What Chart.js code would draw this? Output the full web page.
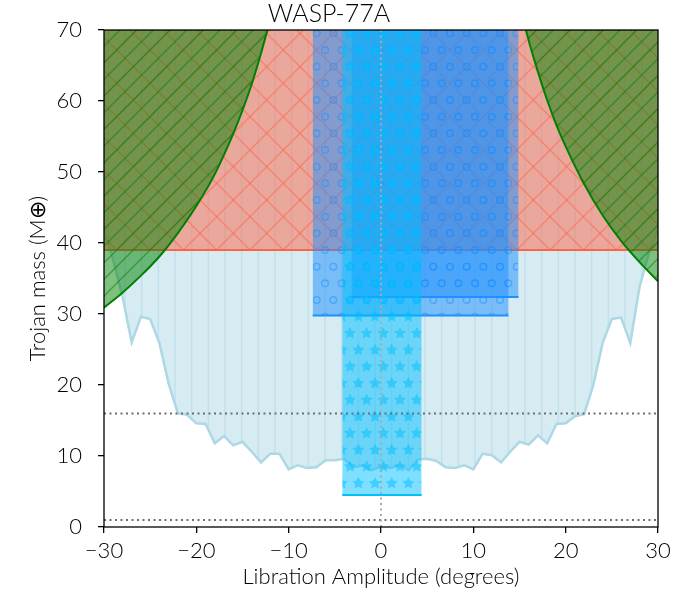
<!DOCTYPE html>
<html>
<head>
<meta charset="utf-8">
<script src="https://cdn.jsdelivr.net/npm/chart.js@4.4.1/dist/chart.umd.min.js"></script>
<style>
  html, body { margin: 0; padding: 0; background: #ffffff; }
  #wrap { width: 693px; height: 600px; }
</style>
</head>
<body>
<div id="wrap"><canvas id="c" width="693" height="600"></canvas></div>
<script>
// ---------------- data ----------------
const chartTitle = 'WASP-77A';
const xAxisLabel = 'Libration Amplitude (degrees)';
const yAxisLabel = 'Trojan mass (M\u2295)';

const amplitudes = [-30,-29,-28,-27,-26,-25,-24,-23,-22,-21,-20,-19,-18,-17,-16,-15,-14,-13,-12,-11,-10,
  -9,-8,-7,-6,-5,-4,-3,-2,-1,0,1,2,3,4,5,6,7,8,9,10,11,12,13,14,15,16,17,18,19,20,21,22,23,24,25,26,27,28,29,30];
const massLimit = [42,37.6,32.5,26.0,29.6,29.3,25.9,20.2,16.0,15.8,14.6,14.5,11.8,12.8,11.5,12.0,10.6,9.1,10.3,10.3,8.1,
  8.7,8.3,8.4,9.4,9.4,9.6,8.4,8.7,8.0,8.5,8.3,8.7,8.0,9.5,9.6,9.3,8.4,8.3,8.7,8.1,10.3,10.1,9.1,10.6,12.0,11.6,12.9,11.8,
  14.5,14.6,15.6,15.9,20.0,25.9,29.3,29.5,25.9,33.8,38.5,42];

const redX = [-30, 30];
const redY = [39, 39];

const greenLeftX = [-30,-28,-26,-24,-22,-20,-18,-16,-15,-14,-13,-12.3];
const greenLeftY = [30.9,33.0,35.4,38.1,41.4,45.2,49.7,55.4,58.7,62.4,66.7,70];
const greenRightX = [15.7,16,17,18,19,20,22,24,26,28,30];
const greenRightY = [70,68.5,64.1,60.1,56.6,53.6,48.3,43.9,40.3,37.3,34.6];

const band1X = [-7.4, 13.8];
const band1Y = [29.8, 29.8];
const band2X = [-3.2, 14.9];
const band2Y = [32.4, 32.4];
const starX = [-4.2, 4.4];
const starY = [4.5, 4.5];

const refLine1Y = [16, 16];
const refLine2Y = [1, 1];
const fullX = [-30, 30];
const zeroX = [0, 0];
const zeroY = [0, 70];

const xTicks = [-30, -20, -10, 0, 10, 20, 30];
const yTicks = [0, 10, 20, 30, 40, 50, 60, 70];

// ---------------- hatch patterns ----------------
function makePattern(fill, stroke, kind) {
  const c = document.createElement('canvas');
  c.width = 100; c.height = 100;
  const g = c.getContext('2d');
  g.fillStyle = fill; g.fillRect(0, 0, 100, 100);
  g.strokeStyle = stroke; g.fillStyle = stroke; g.lineWidth = 1.4;
  const u = 100 / 6;
  if (kind === 'vline') {
    for (let i = 0; i < 6; i++) {
      const x = (i + 0.5) * u;
      g.beginPath(); g.moveTo(x, -1); g.lineTo(x, 101); g.stroke();
    }
  }
  if (kind === 'slash' || kind === 'cross') {
    const s = kind === 'slash' ? u : 2 * u;
    for (let k = -1; k * s <= 220; k++) {
      const c0 = k * s;
      g.beginPath(); g.moveTo(c0 + 5, -5); g.lineTo(c0 - 105, 105); g.stroke();
    }
    if (kind === 'cross') {
      for (let k = -8; k <= 8; k++) {
        const c0 = k * s;
        g.beginPath(); g.moveTo(-5, c0 - 5); g.lineTo(105, c0 + 105); g.stroke();
      }
    }
  }
  if (kind === 'circle' || kind === 'star') {
    for (let r = 0; r <= 6; r++) {
      const y = r * u;
      const cols = r % 2 === 0 ? [0,1,2,3,4,5,6].map(j => j * u) : [0,1,2,3,4,5].map(j => u / 2 + j * u);
      cols.forEach(x => {
        if (kind === 'circle') {
          g.beginPath(); g.arc(x, y, 3.3, 0, Math.PI * 2); g.stroke();
        } else {
          const R = 6.4, rin = 3.2;
          g.beginPath();
          for (let p = 0; p < 10; p++) {
            const a = -Math.PI / 2 + p * Math.PI / 5;
            const rr = p % 2 === 0 ? R : rin;
            const px = x + rr * Math.cos(a), py = y + rr * Math.sin(a);
            if (p === 0) g.moveTo(px, py); else g.lineTo(px, py);
          }
          g.closePath(); g.fill();
        }
      });
    }
  }
  return g.createPattern(c, 'repeat');
}

const pLightBlue = makePattern('rgba(173,216,230,0.5)', 'rgba(173,216,230,0.5)', 'vline');
const pRed = makePattern('rgba(255,99,71,0.5)', 'rgba(255,99,71,0.5)', 'cross');
const pGreen = makePattern('rgba(0,128,0,0.5)', 'rgba(0,128,0,0.5)', 'slash');
const pBlue = makePattern('rgba(30,144,255,0.5)', 'rgba(30,144,255,0.5)', 'circle');
const pStar = makePattern('rgba(0,191,255,0.5)', 'rgba(0,191,255,0.5)', 'star');

function pts(xs, ys) { return xs.map((x, i) => ({ x: x, y: ys[i] })); }

const FONT = 'Lato, "DejaVu Sans", sans-serif';
const minus = v => (v < 0 ? '\u2212' + Math.abs(v) : String(v));

const framePlugin = {
  id: 'frame',
  afterDatasetsDraw(chart) {
    const a = chart.chartArea, ctx = chart.ctx;
    ctx.save();
    ctx.strokeStyle = '#000'; ctx.lineWidth = 1.3;
    ctx.strokeRect(a.left, a.top, a.right - a.left, a.bottom - a.top);
    ctx.restore();
  }
};

new Chart(document.getElementById('c'), {
  type: 'line',
  data: {
    datasets: [
      { label: 'limit', data: pts(amplitudes, massLimit), fill: 'end', backgroundColor: pLightBlue,
        borderColor: '#add8e6', borderWidth: 2.5, pointRadius: 0, tension: 0, order: 10 },
      { label: 'red', data: pts(redX, redY), fill: 'end', backgroundColor: pRed,
        borderColor: '#ff6347', borderWidth: 2, pointRadius: 0, order: 9 },
      { label: 'greenL', data: pts(greenLeftX, greenLeftY), fill: 'end', backgroundColor: pGreen,
        borderColor: '#008000', borderWidth: 2, pointRadius: 0, cubicInterpolationMode: 'monotone', order: 8 },
      { label: 'greenR', data: pts(greenRightX, greenRightY), fill: 'end', backgroundColor: pGreen,
        borderColor: '#008000', borderWidth: 2, pointRadius: 0, cubicInterpolationMode: 'monotone', order: 7 },
      { label: 'band1', data: pts(band1X, band1Y), fill: 'end', backgroundColor: pBlue,
        borderColor: '#1e90ff', borderWidth: 2, pointRadius: 0, order: 6 },
      { label: 'band2', data: pts(band2X, band2Y), fill: 'end', backgroundColor: pBlue,
        borderColor: '#1e90ff', borderWidth: 2, pointRadius: 0, order: 5 },
      { label: 'star', data: pts(starX, starY), fill: 'end', backgroundColor: pStar,
        borderColor: '#00bfff', borderWidth: 2, pointRadius: 0, order: 4 },
      { label: 'ref16', data: pts(fullX, refLine1Y), fill: false, borderColor: '#6e6e6e',
        borderWidth: 2, borderDash: [2, 3.5], pointRadius: 0, order: 3 },
      { label: 'ref1', data: pts(fullX, refLine2Y), fill: false, borderColor: '#6e6e6e',
        borderWidth: 2, borderDash: [2, 3.5], pointRadius: 0, order: 2 },
      { label: 'zero', data: pts(zeroX, zeroY), fill: false, borderColor: '#aaaaaa',
        borderWidth: 2, borderDash: [2, 3.5], pointRadius: 0, order: 1 }
    ]
  },
  options: {
    responsive: false,
    animation: false,
    devicePixelRatio: 1,
    layout: { padding: { left: 0, right: 35, top: 0, bottom: 0 } },
    plugins: {
      legend: { display: false },
      tooltip: { enabled: false },
      title: { display: true, text: chartTitle, color: '#000',
        font: { family: FONT, size: 25, weight: 300, lineHeight: 1.1 },
        padding: { top: 0, bottom: 2.5 } }
    },
    scales: {
      x: {
        type: 'linear', min: -30, max: 30,
        afterBuildTicks: s => { s.ticks = xTicks.map(v => ({ value: v })); },
        afterFit: s => { s.height = 73; },
        ticks: { callback: minus, color: '#000', font: { family: FONT, size: 22, weight: 300 }, padding: 5,
          maxRotation: 0, autoSkip: false },
        grid: { display: true, drawOnChartArea: false, drawTicks: true, tickLength: 6, color: '#000', lineWidth: 1.3 },
        border: { display: false },
        title: { display: true, text: xAxisLabel, color: '#000', font: { family: FONT, size: 22, weight: 300 },
          padding: { top: 0, bottom: 10 } }
      },
      y: {
        type: 'linear', min: 0, max: 70,
        afterBuildTicks: s => { s.ticks = yTicks.map(v => ({ value: v })); },
        afterFit: s => { s.width = 104; },
        ticks: { callback: minus, color: '#000', font: { family: FONT, size: 22, weight: 300 }, padding: 16, autoSkip: false },
        grid: { display: true, drawOnChartArea: false, drawTicks: true, tickLength: 6, color: '#000', lineWidth: 1.3 },
        border: { display: false },
        title: { display: true, text: yAxisLabel, color: '#000', font: { family: FONT, size: 22, weight: 300 },
          padding: { top: 25, bottom: 0 } }
      }
    }
  },
  plugins: [framePlugin]
});
</script>
</body>
</html>
